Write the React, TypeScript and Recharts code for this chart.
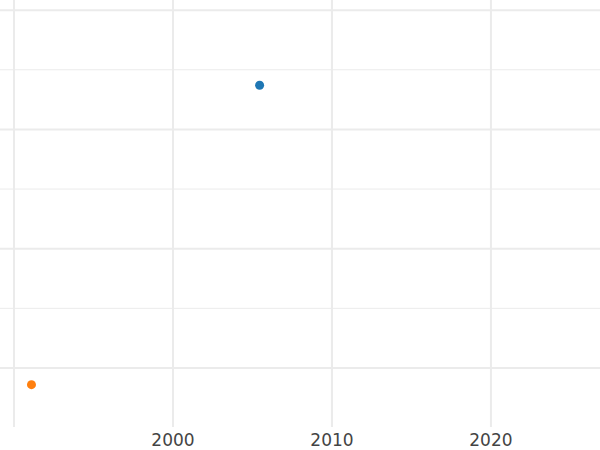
import { ReferenceLine, Scatter, ScatterChart, XAxis, YAxis } from "recharts"

// Points (x = year, y = unlabelled value)
const seriesA = [{ x: 2005.45, y: 3.37 }]
const seriesB = [{ x: 1991.1, y: 0.86 }]

const xTicks = [1990, 2000, 2010, 2020]
const yMajorTicks = [1, 2, 3, 4]
const yMinorTicks = [1.5, 2.5, 3.5]

const gridColor = "#ebebeb"

// Hide the 1990 label, it would sit on the edge
const XTick = ({ x, y, payload }: any) => {
  if (payload.value === 1990) return null
  return (
    <text x={x} y={y} dy="0.71em" textAnchor="middle" fill="#444" fontSize={17} fontFamily="DejaVu Sans">
      {payload.value}
    </text>
  )
}

export default function App() {
  return (
    <div style={{ position: "absolute", left: 0, top: 0, width: 600, height: 450, background: "#fff" }}>
      <ScatterChart width={600} height={450} margin={{ top: 0, right: 0, bottom: 0, left: 0 }}>
        {yMinorTicks.map((v) => (
          <ReferenceLine key={"m" + v} y={v} stroke={gridColor} strokeWidth={1} />
        ))}
        {yMajorTicks.map((v) => (
          <ReferenceLine key={"y" + v} y={v} stroke={gridColor} strokeWidth={2} />
        ))}
        {xTicks.map((v) => (
          <ReferenceLine key={"x" + v} x={v} stroke={gridColor} strokeWidth={2} />
        ))}
        <XAxis
          type="number"
          dataKey="x"
          domain={[1989.12, 2026.86]}
          allowDataOverflow
          ticks={xTicks}
          tick={<XTick />}
          tickLine={false}
          axisLine={false}
          tickSize={0}
          tickMargin={7}
          height={23}
          interval={0}
        />
        <YAxis
          type="number"
          dataKey="y"
          domain={[0.505, 4.085]}
          allowDataOverflow
          ticks={yMajorTicks}
          tick={false}
          tickLine={false}
          axisLine={false}
          width={0}
        />
        <Scatter data={seriesA} fill="#1f77b4" isAnimationActive={false} shape={(p: any) => <circle cx={p.cx} cy={p.cy} r={4.5} fill="#1f77b4" />} />
        <Scatter data={seriesB} fill="#ff7f0e" isAnimationActive={false} shape={(p: any) => <circle cx={p.cx} cy={p.cy} r={4.5} fill="#ff7f0e" />} />
      </ScatterChart>
    </div>
  )
}
